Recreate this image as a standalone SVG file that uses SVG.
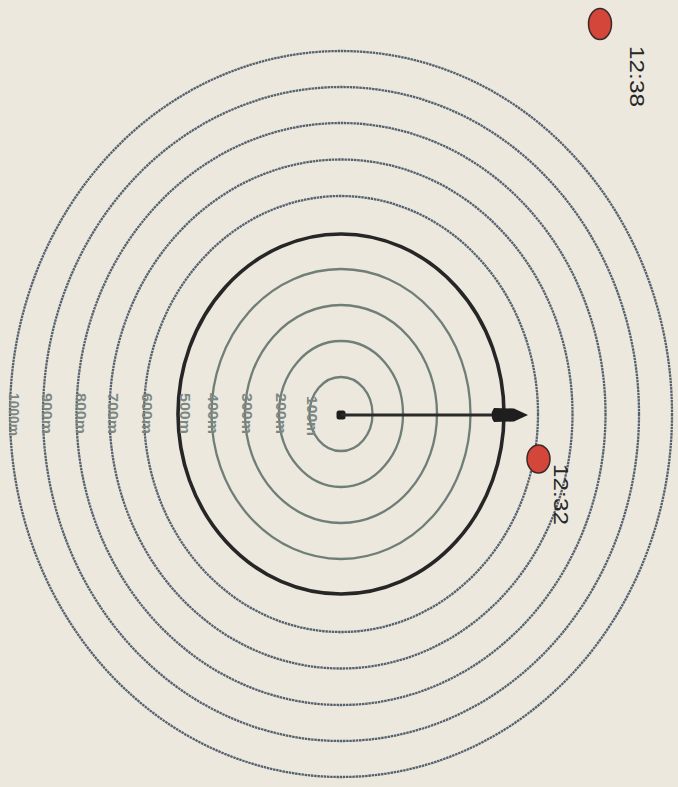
<svg xmlns="http://www.w3.org/2000/svg" width="678" height="787" viewBox="0 0 678 787">
<style>
.bg{fill:#ece8dd}
.ring{fill:none;stroke-width:2.3}
.outer{stroke:#56626f;stroke-dasharray:2.5 0.7}
.inner{stroke:#6f7e78}
.main{fill:none;stroke:#262626;stroke-width:3.6}
.lbl{font-family:"Liberation Sans",Arial,sans-serif;font-size:14px;font-weight:bold;fill:#7b8783}
.time{font-family:"Liberation Sans",Arial,sans-serif;font-size:21px;fill:#262626}
.dot{fill:#d5463a;stroke:#3a2a25;stroke-width:1.5}
</style>
<rect class="bg" x="0" y="0" width="678" height="787"/>
<g id="rings">
<ellipse id="r1000" class="ring outer" cx="341" cy="414" rx="331" ry="363"/>
<ellipse id="r900" class="ring outer" cx="341" cy="414" rx="298" ry="327"/>
<ellipse id="r800" class="ring outer" cx="341" cy="414" rx="264.5" ry="291"/>
<ellipse id="r700" class="ring outer" cx="341" cy="414" rx="231.5" ry="254.5"/>
<ellipse id="r600" class="ring outer" cx="341" cy="414" rx="197" ry="218"/>
<ellipse id="r500" class="main" cx="341" cy="414" rx="163" ry="180"/>
<ellipse id="r400" class="ring inner" cx="341" cy="414" rx="129.5" ry="145"/>
<ellipse id="r300" class="ring inner" cx="341" cy="414" rx="96" ry="109"/>
<ellipse id="r200" class="ring inner" cx="341" cy="414" rx="62" ry="73"/>
<ellipse id="r100" class="ring inner" cx="341" cy="414" rx="31.5" ry="37"/>
</g>
<g id="labels">
<text class="lbl" transform="translate(9,393) rotate(90)" textLength="43" lengthAdjust="spacingAndGlyphs">1000m</text>
<text class="lbl" transform="translate(42,393) rotate(90)" textLength="41" lengthAdjust="spacingAndGlyphs">900m</text>
<text class="lbl" transform="translate(76,393) rotate(90)" textLength="41" lengthAdjust="spacingAndGlyphs">800m</text>
<text class="lbl" transform="translate(108,393) rotate(90)" textLength="41" lengthAdjust="spacingAndGlyphs">700m</text>
<text class="lbl" transform="translate(142,393) rotate(90)" textLength="41" lengthAdjust="spacingAndGlyphs">600m</text>
<text class="lbl" transform="translate(180,393) rotate(90)" textLength="41" lengthAdjust="spacingAndGlyphs">500m</text>
<text class="lbl" transform="translate(208,393) rotate(90)" textLength="41" lengthAdjust="spacingAndGlyphs">400m</text>
<text class="lbl" transform="translate(242,393) rotate(90)" textLength="41" lengthAdjust="spacingAndGlyphs">300m</text>
<text class="lbl" transform="translate(276,393) rotate(90)" textLength="41" lengthAdjust="spacingAndGlyphs">200m</text>
<text class="lbl" transform="translate(307,396) rotate(90)" textLength="40" lengthAdjust="spacingAndGlyphs">100m</text>
</g>
<g id="connectors">
<rect id="center" x="336.5" y="410.5" width="9" height="9" rx="2.5" fill="#1e1e1e"/>
<line x1="341" y1="415" x2="496" y2="415" stroke="#2a2a2a" stroke-width="3"/>
<path id="arrowhead" d="M494,408 Q489,415 494,422 L514,421.5 L528,415 L514,408.5 Z" fill="#1e1e1e"/>
</g>
<g id="p1232">
<ellipse class="dot" cx="538.5" cy="459" rx="11.5" ry="14"/>
<text class="time" transform="translate(554,464) rotate(90)" textLength="61" lengthAdjust="spacingAndGlyphs">12:32</text>
</g>
<g id="p1238">
<ellipse class="dot" cx="600" cy="24" rx="11.5" ry="15.5"/>
<text class="time" transform="translate(630,46) rotate(90)" textLength="61" lengthAdjust="spacingAndGlyphs">12:38</text>
</g>
</svg>
